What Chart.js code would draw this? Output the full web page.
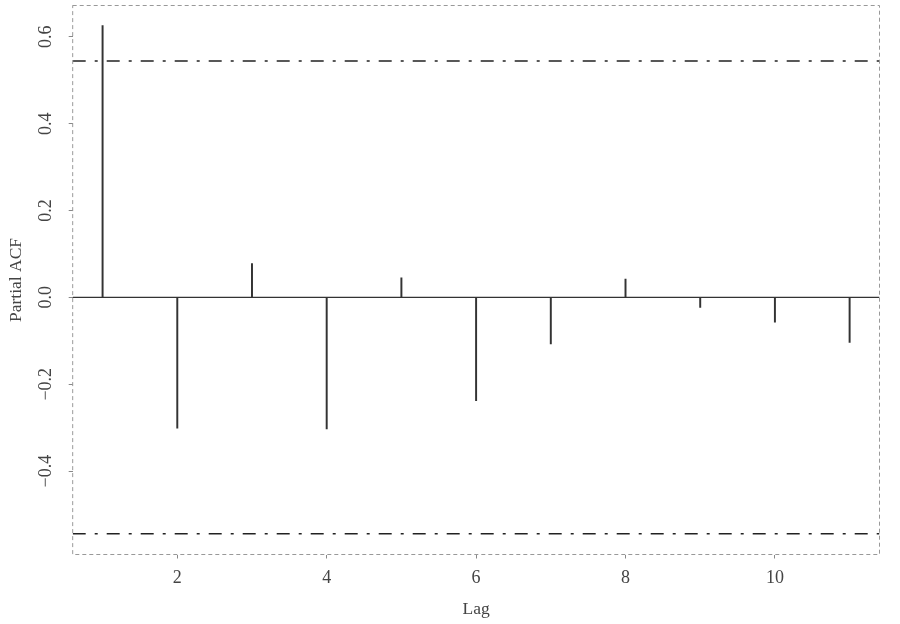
<!DOCTYPE html>
<html>
<head>
<meta charset="utf-8">
<script src="https://cdn.jsdelivr.net/npm/chart.js@4"></script>
<style>
  html, body { margin: 0; padding: 0; background: #fff; }
  #wrap { width: 900px; height: 624px; }
</style>
</head>
<body>
<div id="wrap"><canvas id="grafico" width="900" height="624"></canvas></div>
<script>
// valores
const lags = [1, 2, 3, 4, 5, 6, 7, 8, 9, 10, 11];
const pacf = [0.626, -0.301, 0.078, -0.303, 0.045, -0.238, -0.107, 0.042, -0.023, -0.057, -0.104];
const limite = 0.544;
const xTicks = [2, 4, 6, 8, 10];
const yTicks = [-0.4, -0.2, 0.0, 0.2, 0.4, 0.6];

const fonte = "'Liberation Serif', 'DejaVu Serif', serif";
const corTexto = '#444';

const caixa = {
  id: 'caixa',
  afterDraw(chart) {
    const { ctx, chartArea: a, scales } = chart;
    ctx.save();
    ctx.strokeStyle = '#999';
    ctx.lineWidth = 1;
    ctx.setLineDash([4, 3]);
    ctx.strokeRect(a.left, a.top, a.right - a.left, a.bottom - a.top);
    ctx.setLineDash([]);
    // rotulos do eixo y, rodados como no R
    ctx.fillStyle = corTexto;
    ctx.font = '18px ' + fonte;
    ctx.textAlign = 'center';
    ctx.textBaseline = 'middle';
    yTicks.forEach(v => {
      const y = scales.y.getPixelForValue(v);
      ctx.save();
      ctx.translate(46, y);
      ctx.rotate(-Math.PI / 2);
      ctx.fillText((v < 0 ? '\u2212' : '') + Math.abs(v).toFixed(1), 0, 0);
      ctx.restore();
    });
    ctx.font = '17.5px ' + fonte;
    ctx.save();
    ctx.translate(16, (a.top + a.bottom) / 2);
    ctx.rotate(-Math.PI / 2);
    ctx.fillText('Partial ACF', 0, 0);
    ctx.restore();
    ctx.restore();
  }
};

new Chart(document.getElementById('grafico'), {
  type: 'bar',
  data: {
    datasets: [
      {
        type: 'bar',
        data: lags.map((l, i) => ({ x: l, y: pacf[i] })),
        backgroundColor: '#333',
        barThickness: 1.3,
        order: 1
      },
      {
        type: 'line',
        data: [{ x: 0.6, y: 0 }, { x: 11.4, y: 0 }],
        borderColor: '#333',
        borderWidth: 1.3,
        pointRadius: 0,
        order: 2
      },
      {
        type: 'line',
        data: [{ x: 0.6, y: limite }, { x: 11.4, y: limite }],
        borderColor: '#222',
        borderWidth: 1.5,
        borderDash: [13, 9, 3, 9],
        pointRadius: 0,
        order: 3
      },
      {
        type: 'line',
        data: [{ x: 0.6, y: -limite }, { x: 11.4, y: -limite }],
        borderColor: '#222',
        borderWidth: 1.5,
        borderDash: [13, 9, 3, 9],
        pointRadius: 0,
        order: 3
      }
    ]
  },
  options: {
    responsive: false,
    animation: false,
    layout: { padding: { top: 5.5, right: 20.5, left: 0, bottom: 0 } },
    plugins: { legend: { display: false }, tooltip: { enabled: false } },
    scales: {
      x: {
        type: 'linear',
        min: 0.6,
        max: 11.4,
        offset: false,
        afterBuildTicks: s => { s.ticks = xTicks.map(v => ({ value: v })); },
        afterFit: s => { s.height = 69.5; },
        grid: { drawOnChartArea: false, offset: false, tickLength: 4, color: '#888' },
        border: { display: false },
        ticks: { font: { family: fonte, size: 18 }, color: corTexto, padding: 9, maxRotation: 0 },
        title: { display: true, text: 'Lag', font: { family: fonte, size: 17.5 }, color: corTexto, padding: { top: 2 } }
      },
      y: {
        type: 'linear',
        min: -0.592,
        max: 0.672,
        afterBuildTicks: s => { s.ticks = yTicks.map(v => ({ value: v })); },
        afterFit: s => { s.width = 72.7; },
        grid: { drawOnChartArea: false, tickLength: 4, color: '#888' },
        border: { display: false },
        ticks: { display: false }
      }
    }
  },
  plugins: [caixa]
});
</script>
</body>
</html>
